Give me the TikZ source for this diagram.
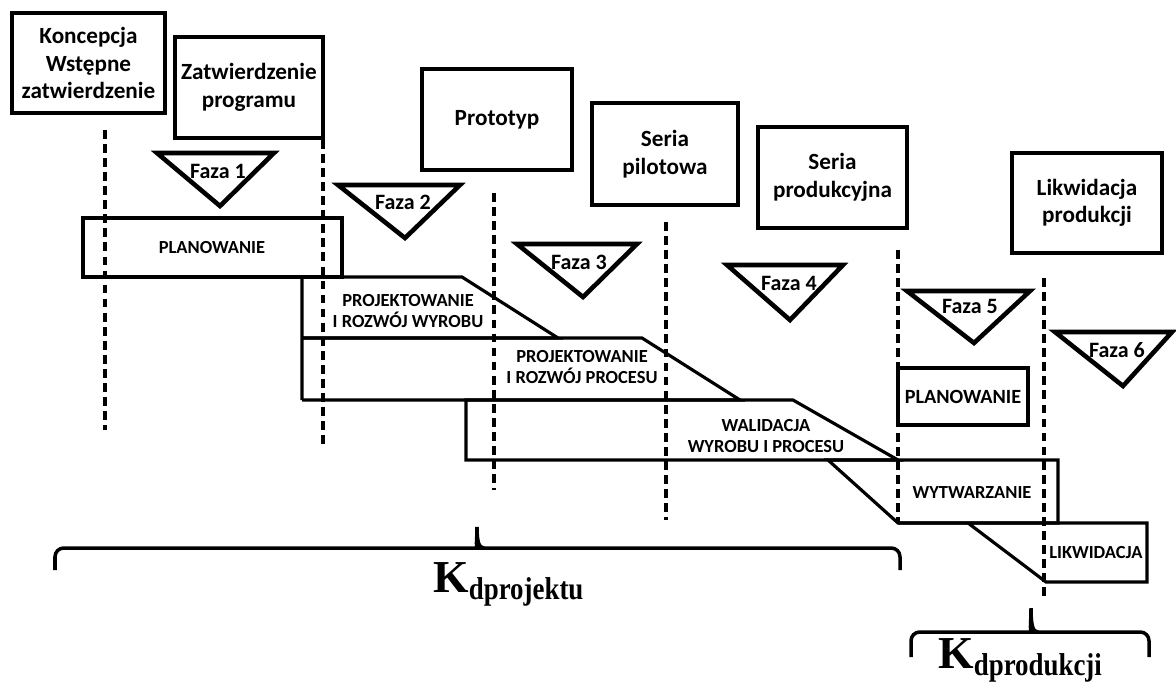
\documentclass[tikz,border=0pt]{standalone}
\usepackage{fontspec}
\setmainfont{Carlito}
\newfontfamily\kfont{Liberation Serif}

\begin{document}
\begin{tikzpicture}[x=0.02cm, y=-0.02cm, every node/.style={font=\bfseries\fontsize{12.5}{15.9}\selectfont, align=center}, milestone/.style={draw, line width=2.2pt, inner sep=0pt, font=\bfseries\fontsize{13.2}{15.6}\selectfont}, phase/.style={draw, line width=2.6pt, line join=miter}, bar/.style={draw, line width=1.8pt, line join=miter}, barlabel/.style={font=\bfseries\fontsize{10.5}{12.5}\selectfont}, border/.style={line width=1.8pt, dash pattern=on 5pt off 3pt}, bracket/.style={line width=2pt, rounded corners=5pt}, klabel/.style={anchor=base west, inner sep=0pt, font=\kfont\bfseries\fontsize{26}{26}\selectfont}]

\useasboundingbox (0,0) rectangle (1176,684);

\node[milestone, minimum width=3.06cm, minimum height=2cm] (koncepcja) at (88.5,63) {Koncepcja\\Wstępne\\zatwierdzenie};
\node[milestone, minimum width=2.96cm, minimum height=2.02cm] (zatwierdzenie) at (249,87.5) {Zatwierdzenie\\programu};
\node[milestone, minimum width=3cm, minimum height=2.02cm] (prototyp) at (497,119.5) {Prototyp};
\node[milestone, minimum width=2.92cm, minimum height=2.04cm] (pilot) at (665,154) {Seria\\pilotowa};
\node[milestone, minimum width=2.98cm, minimum height=2.02cm] (produkcja) at (832.5,177.5) {Seria\\produkcyjna};
\node[milestone, minimum width=3cm, minimum height=2cm] (likwidacja) at (1087,203) {Likwidacja\\produkcji};

\draw[border] (105,130) -- (105,430);
\draw[border] (323,140) -- (323,445);
\draw[border] (494,193) -- (494,490);
\draw[border] (666,222) -- (666,520);
\draw[border] (898,250) -- (898,523);
\draw[border] (1044,278) -- (1044,600);

\draw[phase] (157,153) -- (274,153) -- (220,206) -- cycle;
\node (faza1) at (218,171) {Faza 1};
\draw[phase] (338,185) -- (460,185) -- (405,238) -- cycle;
\node (faza2) at (403,202) {Faza 2};
\draw[phase] (517,244) -- (637,244) -- (583,297) -- cycle;
\node (faza3) at (579,262) {Faza 3};
\draw[phase] (727,265) -- (843,265) -- (790,320) -- cycle;
\node (faza4) at (789,283) {Faza 4};
\draw[phase] (907,291) -- (1030,291) -- (974,343) -- cycle;
\node (faza5) at (970,306) {Faza 5};
\draw[phase] (1055,332) -- (1172,332) -- (1123,386) -- cycle;
\node (faza6) at (1117,350) {Faza 6};

\draw[bar] (83,218) rectangle (342,277);
\node[barlabel] (planowanie) at (212,248) {PLANOWANIE};
\draw[bar] (302,400) -- (302,277) -- (462,277) -- (558,338) -- (302,338);
\node[barlabel] (wyrob) at (408,311) {PROJEKTOWANIE\\I ROZWÓJ WYROBU};
\draw[bar] (302,338) -- (642,338) -- (740,400) -- (302,400);
\node[barlabel] (proces) at (582,367) {PROJEKTOWANIE\\I ROZWÓJ PROCESU};
\draw[bar] (466,400) -- (793,400) -- (898,460) -- (466,460) -- cycle;
\node[barlabel] (walidacja) at (766,436) {WALIDACJA\\WYROBU I PROCESU};
\draw[bar] (898,368) rectangle (1028,425);
\node[barlabel, font=\bfseries\fontsize{11.5}{13}\selectfont] (planowanie5) at (963,397) {PLANOWANIE};
\draw[bar] (828,460) -- (1058,460) -- (1058,523) -- (898,523) -- cycle;
\node[barlabel] (wytwarzanie) at (972,493) {WYTWARZANIE};
\draw[bar] (898,523) -- (1147,523) -- (1147,582) -- (1046,582) -- (968,523);
\node[barlabel] (likw) at (1096,553) {LIKWIDACJA};

\draw[bracket] (55,570) -- (55,548) -- (470,548) [sharp corners] .. controls (475,548) and (477,542) .. (477,527) .. controls (477,542) and (479,548) .. (484,548) [rounded corners=5pt] -- (900,548) -- (900,570);
\node[klabel] (kprojekt) at (433,592) {K\raisebox{-4.5pt}{\scalebox{0.85}[1]{\fontsize{18}{18}\selectfont dprojektu}}};
\draw[bracket] (911,657) -- (911,632) -- (1024,632) [sharp corners] .. controls (1029,632) and (1031,626) .. (1031,608) .. controls (1031,626) and (1033,632) .. (1038,632) [rounded corners=5pt] -- (1149,632) -- (1149,657);
\node[klabel] (kprodukcja) at (938,668) {K\raisebox{-4.5pt}{\scalebox{0.85}[1]{\fontsize{18}{18}\selectfont dprodukcji}}};
\end{tikzpicture}
\end{document}
